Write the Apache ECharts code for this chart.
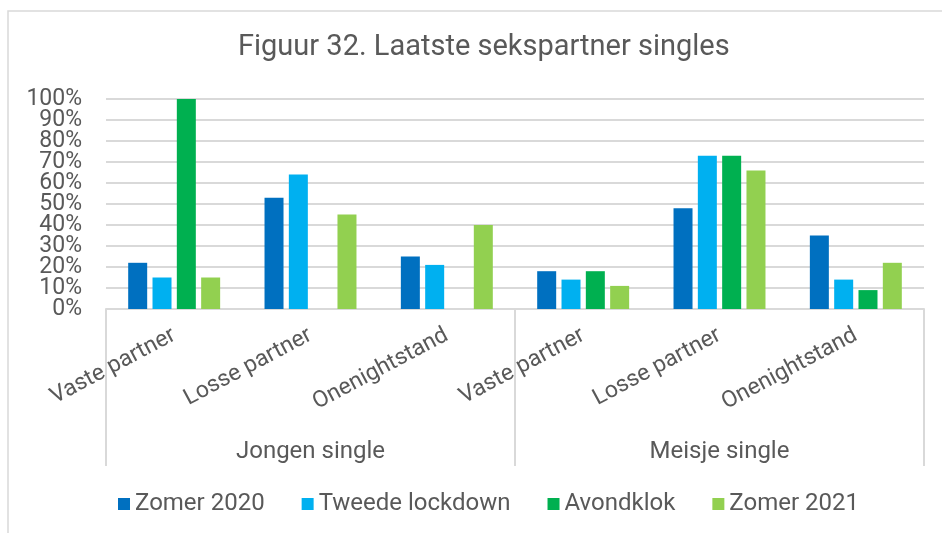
<!DOCTYPE html>
<html>
<head>
<meta charset="utf-8">
<script src="https://cdn.jsdelivr.net/npm/echarts@6/dist/echarts.min.js"></script>
<style>
  html, body { margin: 0; padding: 0; background: #fff; }
  #chart { width: 942px; height: 533px; }
</style>
</head>
<body>
<div id="chart"></div>
<script>
// categorieën (onderste rij) en groepen (hoofdrij)
const categories = ['Vaste partner', 'Losse partner', 'Onenightstand', 'Vaste partner', 'Losse partner', 'Onenightstand']
const groups = ['Jongen single', 'Meisje single']

// percentages per meetmoment
const zomer2020 = [22, 53, 25, 18, 48, 35]
const tweedeLockdown = [15, 64, 21, 14, 73, 14]
const avondklok = [100, null, null, 18, 73, 9]
const zomer2021 = [15, 45, 40, 11, 66, 22]

const seriesNames = ['Zomer 2020', 'Tweede lockdown', 'Avondklok', 'Zomer 2021']
const seriesColors = ['#0070C0', '#00B0F0', '#00B050', '#92D050']
const seriesData = [zomer2020, tweedeLockdown, avondklok, zomer2021]

const textColor = '#595959'
const lineColor = '#d9d9d9'
const font = 'Roboto, "Noto Sans", sans-serif'

const myChart = echarts.init(document.getElementById('chart'), null, { renderer: 'canvas' })

// y-labels staan dicht op elkaar: verdeeld over twee assen (even / oneven tientallen)
const yLabel = {
  margin: 24,
  fontFamily: font,
  fontSize: 23,
  color: textColor
}

const option = {
  animation: false,
  backgroundColor: '#fff',
  textStyle: { fontFamily: font, color: textColor },
  graphic: [{
    type: 'rect',
    shape: { x: 8, y: 11, width: 1000, height: 1000 },
    style: { fill: 'none', stroke: lineColor, lineWidth: 1.5 },
    silent: true
  }],
  title: {
    text: 'Figuur 32. Laatste sekspartner singles',
    left: 233,
    top: 28,
    textStyle: { fontFamily: font, fontSize: 29, fontWeight: 'normal', color: textColor }
  },
  legend: {
    bottom: 12,
    left: 113,
    itemWidth: 12,
    itemHeight: 12,
    itemGap: 37,
    icon: 'rect',
    textStyle: { fontFamily: font, fontSize: 24, color: textColor },
    data: seriesNames
  },
  grid: { left: 106, right: 18, top: 99, bottom: 224, containLabel: false },
  xAxis: [{
    type: 'category',
    data: categories,
    axisLine: { show: false },
    axisTick: { show: false },
    axisLabel: {
      interval: 0,
      rotate: 28,
      margin: 25,
      fontFamily: font,
      fontSize: 23,
      color: textColor
    }
  }, {
    type: 'category',
    data: groups,
    position: 'bottom',
    axisLine: { show: true, lineStyle: { color: lineColor, width: 2 } },
    axisTick: { show: true, length: 157, lineStyle: { color: lineColor, width: 2 } },
    axisLabel: {
      interval: 0,
      margin: 131,
      fontFamily: font,
      fontSize: 24,
      color: textColor
    },
    splitLine: { show: false }
  }],
  yAxis: [{
    type: 'value',
    min: 0,
    max: 100,
    interval: 10,
    axisLine: { show: false },
    axisTick: { show: false },
    splitLine: { lineStyle: { color: lineColor, width: 2 } },
    axisLabel: Object.assign({}, yLabel, {
      showMinLabel: true,
      showMaxLabel: true,
      formatter: v => (v % 20 === 0 ? v + '%' : '')
    })
  }, {
    type: 'value',
    position: 'left',
    min: 0,
    max: 100,
    interval: 10,
    axisLine: { show: false },
    axisTick: { show: false },
    splitLine: { show: false },
    axisLabel: Object.assign({}, yLabel, {
      showMinLabel: false,
      showMaxLabel: false,
      formatter: v => (v % 20 === 10 ? v + '%' : '')
    })
  }],
  series: seriesNames.map((name, i) => ({
    name: name,
    type: 'bar',
    xAxisIndex: 0,
    yAxisIndex: 0,
    data: seriesData[i],
    barWidth: 19,
    barGap: '28%',
    itemStyle: { color: seriesColors[i] }
  }))
}

myChart.setOption(option)
</script>
</body>
</html>
